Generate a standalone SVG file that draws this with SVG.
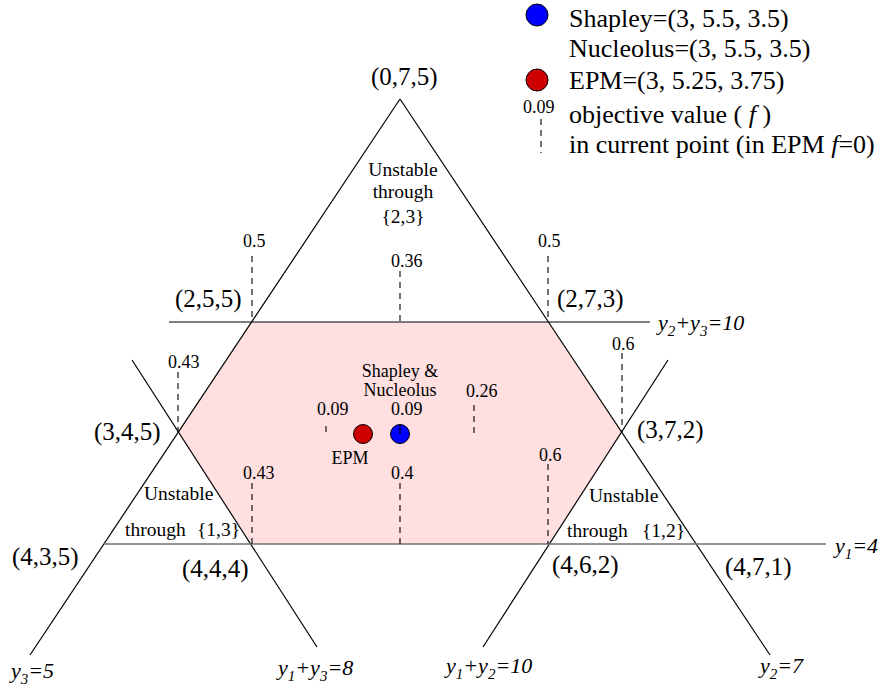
<svg xmlns="http://www.w3.org/2000/svg" width="884" height="695" viewBox="0 0 884 695">
<style>
.ln{stroke:#000;stroke-width:1.2;fill:none}
.gl{stroke:#707070;stroke-width:1.6;fill:none}
.ds{stroke:#000;stroke-width:1.1;stroke-dasharray:6,5;fill:none}
.t{font-family:"Liberation Serif",serif;fill:#000}
.co{font-size:25px}
.nm{font-size:18px}
.un{font-size:19.5px}
.eq{font-size:22px;font-style:italic}
.sb{font-size:15px}
.lg{font-size:26px}
.pt{stroke:#000;stroke-width:1}
</style>
<rect width="884" height="695" fill="#fff"/>
<g id="core-region">
<polygon points="252,322 548,322 622,432 548,544 252,544 178,432" fill="#ffdfe0"/>
</g>
<g id="connectors">
<line class="ln" x1="400" y1="99" x2="30" y2="655"/>
<line class="ln" x1="400" y1="99" x2="770" y2="655"/>
<line class="ln" x1="132" y1="360" x2="317" y2="647"/>
<line class="ln" x1="668" y1="360" x2="483" y2="647"/>
<line class="ln" x1="169" y1="322" x2="650" y2="322"/>
<line class="gl" x1="104" y1="544" x2="826" y2="544"/>
<line class="ds" x1="252" y1="256" x2="252" y2="322"/>
<line class="ds" x1="548" y1="256" x2="548" y2="322"/>
<line class="ds" x1="400" y1="271" x2="400" y2="322"/>
<line class="ds" x1="178" y1="372" x2="178" y2="432"/>
<line class="ds" x1="622" y1="353" x2="622" y2="432"/>
<line class="ds" x1="326" y1="426" x2="326" y2="433"/>
<line class="ds" x1="474" y1="405" x2="474" y2="433"/>
<line class="ds" x1="252" y1="483" x2="252" y2="544"/>
<line class="ds" x1="400" y1="483" x2="400" y2="544"/>
<line class="ds" x1="548" y1="464" x2="548" y2="544"/>
<line class="ds" x1="541" y1="119" x2="541" y2="153"/>
</g>
<g id="vertices">
<text class="t co" x="371" y="85">(0,7,5)</text>
<text class="t co" x="175" y="307">(2,5,5)</text>
<text class="t co" x="557" y="307">(2,7,3)</text>
<text class="t co" x="94" y="440">(3,4,5)</text>
<text class="t co" x="637" y="438">(3,7,2)</text>
<text class="t co" x="12" y="565">(4,3,5)</text>
<text class="t co" x="182" y="577">(4,4,4)</text>
<text class="t co" x="552" y="573">(4,6,2)</text>
<text class="t co" x="725" y="575">(4,7,1)</text>
</g>
<g id="line-labels">
<text class="t eq" x="658" y="330">y<tspan class="sb" dy="6">2</tspan><tspan dy="-6">+y</tspan><tspan class="sb" dy="6">3</tspan><tspan dy="-6">=10</tspan></text>
<text class="t eq" x="835" y="553">y<tspan class="sb" dy="6">1</tspan><tspan dy="-6">=4</tspan></text>
<text class="t eq" x="11" y="678">y<tspan class="sb" dy="6">3</tspan><tspan dy="-6">=5</tspan></text>
<text class="t eq" x="278" y="675">y<tspan class="sb" dy="6">1</tspan><tspan dy="-6">+y</tspan><tspan class="sb" dy="6">3</tspan><tspan dy="-6">=8</tspan></text>
<text class="t eq" x="446" y="673">y<tspan class="sb" dy="6">1</tspan><tspan dy="-6">+y</tspan><tspan class="sb" dy="6">2</tspan><tspan dy="-6">=10</tspan></text>
<text class="t eq" x="760" y="673">y<tspan class="sb" dy="6">2</tspan><tspan dy="-6">=7</tspan></text>
</g>
<g id="unstable-23">
<text class="t un" x="403" y="176" text-anchor="middle">Unstable</text>
<text class="t un" x="403" y="198" text-anchor="middle">through</text>
<text class="t un" x="403" y="223" text-anchor="middle">{2,3}</text>
</g>
<g id="unstable-13">
<text class="t un" x="144" y="500">Unstable</text>
<text class="t un" x="125" y="536">through</text>
<text class="t un" x="197" y="536">{1,3}</text>
</g>
<g id="unstable-12">
<text class="t un" x="589" y="502">Unstable</text>
<text class="t un" x="567" y="537">through</text>
<text class="t un" x="642" y="537">{1,2}</text>
</g>
<g id="values">
<text class="t nm" x="243" y="247">0.5</text>
<text class="t nm" x="538" y="247">0.5</text>
<text class="t nm" x="391" y="267">0.36</text>
<text class="t nm" x="168" y="368">0.43</text>
<text class="t nm" x="612" y="350">0.6</text>
<text class="t nm" x="317" y="415">0.09</text>
<text class="t nm" x="391" y="415">0.09</text>
<text class="t nm" x="466" y="397">0.26</text>
<text class="t nm" x="243" y="479">0.43</text>
<text class="t nm" x="391" y="479">0.4</text>
<text class="t nm" x="539" y="461">0.6</text>
</g>
<g id="epm-point">
<circle class="pt" cx="363" cy="434" r="9.5" fill="#cc0000"/>
<text class="t nm" x="350" y="464" text-anchor="middle">EPM</text>
</g>
<g id="shapley-point">
<circle class="pt" cx="400" cy="434" r="9.5" fill="#0000ff"/>
<line x1="400" y1="425" x2="400" y2="434" stroke="#000" stroke-width="1.1"/>
<text class="t nm" x="400" y="377" text-anchor="middle">Shapley &amp;</text>
<text class="t nm" x="400" y="396" text-anchor="middle">Nucleolus</text>
</g>
<g id="legend">
<circle class="pt" cx="537" cy="15" r="11" fill="#0000ff"/>
<text class="t lg" x="569" y="27">Shapley=(3, 5.5, 3.5)</text>
<text class="t lg" x="569" y="57">Nucleolus=(3, 5.5, 3.5)</text>
<circle class="pt" cx="537" cy="80" r="11" fill="#cc0000"/>
<text class="t lg" x="569" y="89">EPM=(3, 5.25, 3.75)</text>
<text class="t nm" x="523" y="113">0.09</text>
<text class="t lg" x="569" y="123">objective value ( <tspan font-style="italic">f</tspan> )</text>
<text class="t lg" x="569" y="153">in current point (in EPM <tspan font-style="italic">f</tspan>=0)</text>
</g>
</svg>
